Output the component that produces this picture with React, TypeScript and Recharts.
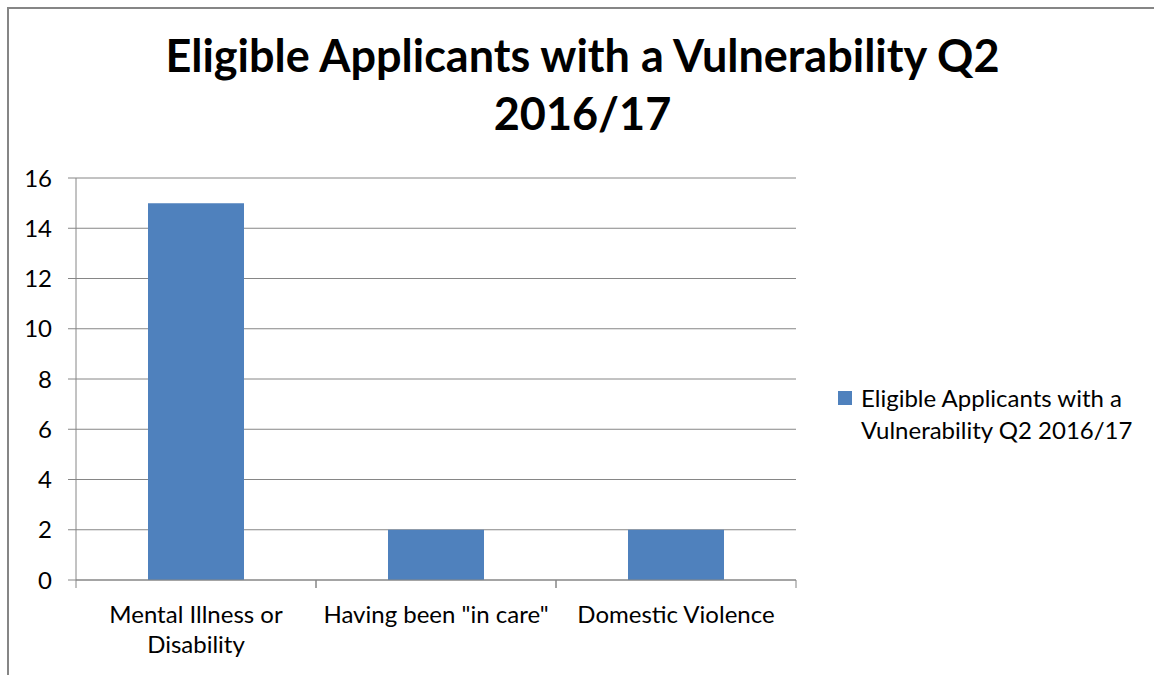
import { Bar, BarChart, CartesianGrid, Legend, XAxis, YAxis } from "recharts";

const title = ["Eligible Applicants with a Vulnerability Q2", "2016/17"];
const seriesName = "Eligible Applicants with a Vulnerability Q2 2016/17";
const categories = ["Mental Illness or Disability", 'Having been "in care"', "Domestic Violence"];
const values = [15, 2, 2];
const yTicks = [0, 2, 4, 6, 8, 10, 12, 14, 16];

const data = categories.map((name, i) => ({ name, value: values[i] }));

const FONT = "Lato, 'Noto Sans', sans-serif";
const GREY = "#868686";
const PLOT_W = 720;

let ctx: CanvasRenderingContext2D | null = null;

// greedy word wrap, measured with a canvas
function wrapLabel(label: string, maxWidth: number, font: string) {
  if (!ctx) ctx = document.createElement("canvas").getContext("2d");
  if (!ctx) return [label];
  ctx.font = font;
  const lines: string[] = [];
  let cur = "";
  for (const w of label.split(" ")) {
    const next = cur ? cur + " " + w : w;
    if (cur && ctx.measureText(next).width > maxWidth) {
      lines.push(cur);
      cur = w;
    } else {
      cur = next;
    }
  }
  if (cur) lines.push(cur);
  return lines;
}

function CategoryTick(props: any) {
  const { x, y, payload } = props;
  const half = PLOT_W / categories.length / 2;
  const axisY = y - 8;
  const lines = wrapLabel(String(payload.value), 236, `24px ${FONT}`);
  return (
    <g>
      <line x1={x - half} x2={x - half} y1={axisY} y2={axisY + 8} stroke={GREY} />
      <line x1={x + half} x2={x + half} y1={axisY} y2={axisY + 8} stroke={GREY} />
      <text x={x} y={y + 35} textAnchor="middle" fontSize={24} fontFamily={FONT} fill="#000">
        {lines.map((l, i) => (
          <tspan key={i} x={x} dy={i === 0 ? 0 : 30}>
            {l}
          </tspan>
        ))}
      </text>
    </g>
  );
}

export default function App() {
  return (
    <div style={{ position: "absolute", left: 0, top: 0, width: 1154, height: 675, overflow: "hidden", background: "#fff" }}>
      <div
        style={{
          position: "absolute",
          left: 7,
          top: 7,
          width: 1200,
          height: 720,
          borderTop: `2px solid ${GREY}`,
          borderLeft: `2px solid ${GREY}`,
        }}
      />
      <div
        style={{
          position: "absolute",
          left: 0,
          top: 26,
          width: 1165,
          textAlign: "center",
          fontFamily: FONT,
          fontWeight: 700,
          fontSize: 45,
          lineHeight: "58px",
          color: "#000",
        }}
      >
        {title.map((t) => (
          <div key={t}>{t}</div>
        ))}
      </div>
      <div style={{ position: "absolute", left: 0, top: 0 }}>
        <BarChart
          width={1154}
          height={675}
          data={data}
          margin={{ top: 178, right: 358, bottom: 0, left: 0 }}
          barCategoryGap="30%"
        >
          <CartesianGrid vertical={false} stroke={GREY} />
          <XAxis
            dataKey="name"
            height={95}
            axisLine={{ stroke: GREY }}
            tickLine={false}
            tickSize={8}
            tickMargin={0}
            interval={0}
            tick={<CategoryTick />}
          />
          <YAxis
            width={76}
            domain={[0, 16]}
            ticks={yTicks}
            axisLine={{ stroke: GREY }}
            tickLine={{ stroke: GREY }}
            tickSize={8}
            tickMargin={16}
            tick={{ fill: "#000", fontSize: 24, fontFamily: FONT }}
          />
          <Legend
            layout="vertical"
            align="center"
            verticalAlign="middle"
            wrapperStyle={{ left: 838, top: 382, width: 310 }}
            content={({ payload }: any) => (
              <div style={{ display: "flex", alignItems: "flex-start", fontFamily: FONT }}>
                <span style={{ width: 14, height: 14, background: "#4F81BD", marginTop: 9, flex: "none" }} />
                <span style={{ width: 285, marginLeft: 9, fontSize: 24, lineHeight: "32px", color: "#000" }}>
                  {payload?.[0]?.value}
                </span>
              </div>
            )}
          />
          <Bar dataKey="value" name={seriesName} fill="#4F81BD" isAnimationActive={false} />
        </BarChart>
      </div>
    </div>
  );
}
